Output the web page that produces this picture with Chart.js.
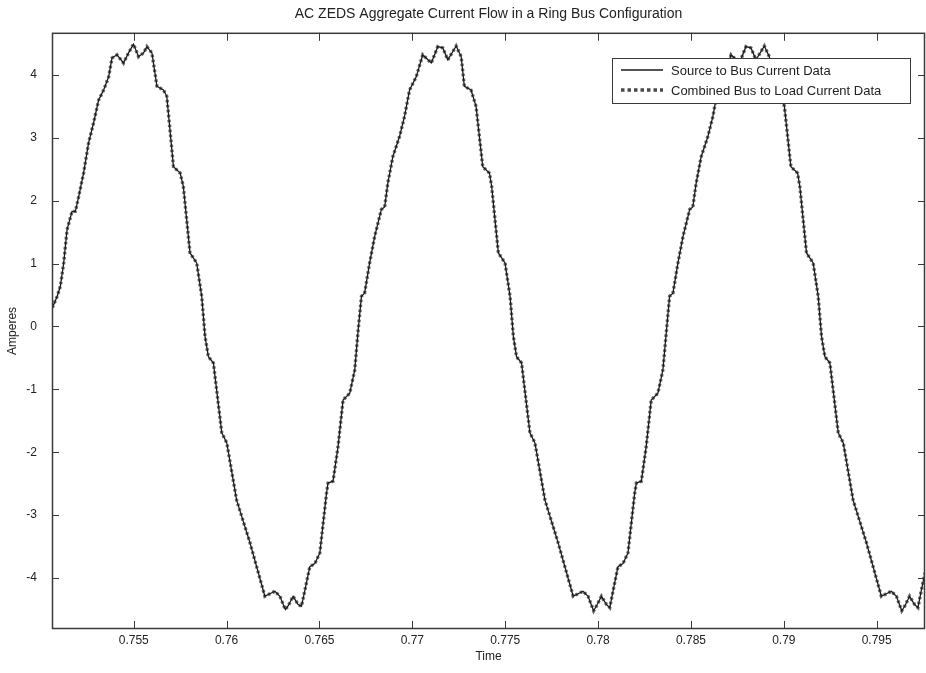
<!DOCTYPE html>
<html>
<head>
<meta charset="utf-8">
<title>AC ZEDS Aggregate Current Flow</title>
<script src="https://cdn.jsdelivr.net/npm/chart.js@4.4.1/dist/chart.umd.min.js"></script>
<style>
    html, body { margin: 0; padding: 0; background: #ffffff; }
    #wrap { width: 926px; height: 673px; }
</style>
</head>
<body>
<div id="wrap"><canvas id="currentChart" width="926" height="673"></canvas></div>
<script>
// sample times (s)
const timeSec = [
    0.75062, 0.75088, 0.75105, 0.75123, 0.75141, 0.75168, 0.75186, 0.75204, 0.75230, 0.75257, 0.75284, 0.75311,
    0.75338, 0.75365, 0.75383, 0.75410, 0.75445, 0.75472, 0.75499, 0.75526, 0.75553, 0.75571, 0.75598,
    0.75625, 0.75660, 0.75678, 0.75714, 0.75750, 0.75767, 0.75803, 0.75839, 0.75866, 0.75884, 0.75902, 0.75929,
    0.75974, 0.76001, 0.76054, 0.76126, 0.76206, 0.76260, 0.76287, 0.76316, 0.76332, 0.76358, 0.76385, 0.76403, 0.76421,
    0.76448, 0.76475, 0.76502, 0.76538, 0.76546, 0.76573, 0.76600, 0.76627, 0.76663, 0.76690, 0.76707, 0.76726,
    0.76743, 0.76770, 0.76797, 0.76833, 0.76851, 0.76868, 0.76895, 0.76931, 0.76958, 0.76985, 0.77021, 0.77056,
    0.77102, 0.77137, 0.77164, 0.77191, 0.77236, 0.77263,
    0.77280, 0.77316, 0.77343, 0.77379, 0.77415, 0.77427, 0.77463, 0.77499, 0.77526, 0.77544, 0.77561, 0.77588,
    0.77633, 0.77660, 0.77714, 0.77785, 0.77866, 0.77919, 0.77946, 0.77976, 0.77992, 0.78018, 0.78045, 0.78063, 0.78081,
    0.78107, 0.78134, 0.78161, 0.78197, 0.78206, 0.78233, 0.78259, 0.78286, 0.78322, 0.78349, 0.78367, 0.78385,
    0.78403, 0.78430, 0.78457, 0.78493, 0.78510, 0.78528, 0.78555, 0.78591, 0.78618, 0.78644, 0.78680, 0.78716,
    0.78761, 0.78796, 0.78823, 0.78850, 0.78895, 0.78922,
    0.78940, 0.78976, 0.79003, 0.79038, 0.79074, 0.79086, 0.79122, 0.79158, 0.79185, 0.79203, 0.79221, 0.79248,
    0.79293, 0.79320, 0.79373, 0.79445, 0.79525, 0.79579, 0.79606, 0.79635, 0.79652, 0.79677, 0.79704, 0.79722,
    0.79740, 0.79767
];

// Source to Bus current (A)
const sourceCurrent = [
    0.30, 0.48, 0.64, 1.01, 1.54, 1.83, 1.83, 2.07, 2.44, 2.92, 3.24, 3.60,
    3.76, 3.97, 4.27, 4.32, 4.19, 4.35, 4.49, 4.29, 4.35, 4.45, 4.35,
    3.82, 3.76, 3.66, 2.54, 2.44, 2.23, 1.17, 1.01, 0.48, -0.16, -0.48, -0.58,
    -1.69, -1.85, -2.76, -3.44, -4.29, -4.21, -4.29, -4.50, -4.44, -4.29, -4.42, -4.45, -4.20,
    -3.82, -3.77, -3.60, -2.65, -2.49, -2.46, -1.91, -1.17, -1.06, -0.69, -0.10, 0.48,
    0.53, 1.01, 1.43, 1.86, 1.90, 2.28, 2.70, 3.02, 3.34, 3.76, 3.97, 4.32,
    4.19, 4.45, 4.43, 4.24, 4.46, 4.29,
    3.82, 3.76, 3.50, 2.54, 2.44, 2.23, 1.17, 1.01, 0.48, -0.16, -0.48, -0.58,
    -1.69, -1.85, -2.76, -3.44, -4.29, -4.21, -4.29, -4.52, -4.44, -4.29, -4.42, -4.47, -4.20,
    -3.82, -3.77, -3.60, -2.65, -2.49, -2.46, -1.91, -1.17, -1.06, -0.69, -0.10, 0.48,
    0.53, 1.01, 1.43, 1.86, 1.90, 2.28, 2.70, 3.02, 3.34, 3.76, 3.97, 4.32,
    4.19, 4.45, 4.43, 4.24, 4.46, 4.29,
    3.82, 3.76, 3.50, 2.54, 2.44, 2.23, 1.17, 1.01, 0.48, -0.16, -0.48, -0.58,
    -1.69, -1.85, -2.76, -3.44, -4.29, -4.21, -4.29, -4.52, -4.44, -4.29, -4.42, -4.47,
    -4.20, -3.82
];

// Combined Bus to Load current (A) - lies on top of the source trace
const loadCurrent = [
    0.30, 0.48, 0.64, 1.01, 1.54, 1.83, 1.83, 2.07, 2.44, 2.92, 3.24, 3.60,
    3.76, 3.97, 4.27, 4.32, 4.19, 4.35, 4.49, 4.29, 4.35, 4.45, 4.35,
    3.82, 3.76, 3.66, 2.54, 2.44, 2.23, 1.17, 1.01, 0.48, -0.16, -0.48, -0.58,
    -1.69, -1.85, -2.76, -3.44, -4.29, -4.21, -4.29, -4.50, -4.44, -4.29, -4.42, -4.45, -4.20,
    -3.82, -3.77, -3.60, -2.65, -2.49, -2.46, -1.91, -1.17, -1.06, -0.69, -0.10, 0.48,
    0.53, 1.01, 1.43, 1.86, 1.90, 2.28, 2.70, 3.02, 3.34, 3.76, 3.97, 4.32,
    4.19, 4.45, 4.43, 4.24, 4.46, 4.29,
    3.82, 3.76, 3.50, 2.54, 2.44, 2.23, 1.17, 1.01, 0.48, -0.16, -0.48, -0.58,
    -1.69, -1.85, -2.76, -3.44, -4.29, -4.21, -4.29, -4.52, -4.44, -4.29, -4.42, -4.47, -4.20,
    -3.82, -3.77, -3.60, -2.65, -2.49, -2.46, -1.91, -1.17, -1.06, -0.69, -0.10, 0.48,
    0.53, 1.01, 1.43, 1.86, 1.90, 2.28, 2.70, 3.02, 3.34, 3.76, 3.97, 4.32,
    4.19, 4.45, 4.43, 4.24, 4.46, 4.29,
    3.82, 3.76, 3.50, 2.54, 2.44, 2.23, 1.17, 1.01, 0.48, -0.16, -0.48, -0.58,
    -1.69, -1.85, -2.76, -3.44, -4.29, -4.21, -4.29, -4.52, -4.44, -4.29, -4.42, -4.47,
    -4.20, -3.82
];

const xTicks = [0.755, 0.76, 0.765, 0.77, 0.775, 0.78, 0.785, 0.79, 0.795];
const yTicks = [-4, -3, -2, -1, 0, 1, 2, 3, 4];
const xLimits = [0.7506, 0.7976];
const yLimits = [-4.81, 4.67];

const FONT = 'Liberation Sans, Arial, sans-serif';

// MATLAB style box with inward tick marks on all four sides
const matlabAxes = {
    id: 'matlabAxes',
    afterDatasetsDraw(chart) {
        const { ctx, chartArea: a, scales: { x, y } } = chart;
        ctx.save();
        ctx.strokeStyle = '#3a3a3a';
        ctx.lineWidth = 1;
        ctx.beginPath();
        xTicks.forEach(function(v) {
            const px = Math.round(x.getPixelForValue(v)) + 0.5;
            ctx.moveTo(px, a.bottom); ctx.lineTo(px, a.bottom - 8);
            ctx.moveTo(px, a.top); ctx.lineTo(px, a.top + 8);
        });
        yTicks.forEach(function(v) {
            const py = Math.round(y.getPixelForValue(v)) + 0.5;
            ctx.moveTo(a.left, py); ctx.lineTo(a.left + 7, py);
            ctx.moveTo(a.right, py); ctx.lineTo(a.right - 7, py);
        });
        ctx.stroke();
        ctx.lineWidth = 1.5;
        ctx.strokeRect(a.left + 0.5, a.top + 0.5, a.width - 1, a.height - 1);
        ctx.restore();
    }
};

// legend box in the upper right of the axes
const boxLegend = {
    id: 'boxLegend',
    afterDraw(chart) {
        const { ctx, chartArea: a } = chart;
        const bx = a.right - 313, by = 58, bw = 298, bh = 45;
        ctx.save();
        ctx.fillStyle = '#ffffff';
        ctx.fillRect(bx, by, bw, bh);
        ctx.strokeStyle = '#3a3a3a';
        ctx.lineWidth = 1;
        ctx.strokeRect(bx + 0.5, by + 0.5, bw, bh);

        const rows = chart.data.datasets;
        ctx.font = '13px ' + FONT;
        ctx.textBaseline = 'middle';
        ctx.fillStyle = '#222';
        rows.forEach(function(ds, i) {
            const ry = by + 12 + i * 20;
            ctx.strokeStyle = ds.legendColor;
            ctx.lineWidth = ds.legendWidth;
            ctx.setLineDash(ds.legendDash || []);
            ctx.beginPath();
            ctx.moveTo(bx + 9, ry);
            ctx.lineTo(bx + 51, ry);
            ctx.stroke();
            ctx.setLineDash([]);
            ctx.fillText(ds.label, bx + 59, ry + 1);
        });
        ctx.restore();
    }
};

function pairs(values) {
    return timeSec.map(function(t, i) { return { x: t, y: values[i] }; });
}

const ctx = document.getElementById('currentChart').getContext('2d');
const currentChart = new Chart(ctx, {
    type: 'line',
    data: {
        datasets: [
            {
                label: 'Source to Bus Current Data',
                data: pairs(sourceCurrent),
                borderColor: '#1a1a1a',
                borderWidth: 1.3,
                legendColor: '#1a1a1a',
                legendWidth: 1.3,
                pointRadius: 0,
                tension: 0
            },
            {
                label: 'Combined Bus to Load Current Data',
                data: pairs(loadCurrent),
                borderColor: '#6e6e6e',
                borderWidth: 3.4,
                borderDash: [2.5, 2.5],
                legendColor: '#4a4a4a',
                legendWidth: 3.5,
                legendDash: [3.5, 3],
                pointRadius: 0,
                tension: 0
            }
        ]
    },
    options: {
        responsive: false,
        animation: false,
        devicePixelRatio: 1,
        layout: { padding: { left: 0, right: 1, top: 0, bottom: 0 } },
        plugins: {
            legend: { display: false },
            tooltip: { enabled: false },
            title: {
                display: true,
                fullSize: false,
                text: 'AC ZEDS Aggregate Current Flow in a Ring Bus Configuration',
                color: '#222',
                font: { family: FONT, size: 14, weight: 'normal' },
                padding: { top: 5.5, bottom: 10.5 }
            }
        },
        scales: {
            x: {
                type: 'linear',
                min: xLimits[0],
                max: xLimits[1],
                grid: { display: false, drawTicks: false },
                border: { display: false },
                afterBuildTicks: function(s) { s.ticks = xTicks.map(function(v) { return { value: v }; }); },
                afterFit: function(s) { s.height = 44; },
                ticks: {
                    autoSkip: false,
                    maxRotation: 0,
                    padding: 4,
                    color: '#222',
                    font: { family: FONT, size: 12 },
                    callback: function(v) { return String(Number(v.toFixed(3))); }
                },
                title: {
                    display: true,
                    text: 'Time',
                    color: '#222',
                    font: { family: FONT, size: 12 },
                    padding: { top: 0, bottom: 9 }
                }
            },
            y: {
                type: 'linear',
                min: yLimits[0],
                max: yLimits[1],
                grid: { display: false, drawTicks: false },
                border: { display: false },
                afterBuildTicks: function(s) { s.ticks = yTicks.map(function(v) { return { value: v }; }); },
                afterFit: function(s) { s.width = 52; },
                ticks: {
                    padding: 15,
                    color: '#222',
                    font: { family: FONT, size: 12 },
                    callback: function(v) { return String(v); }
                },
                title: {
                    display: true,
                    text: 'Amperes',
                    color: '#222',
                    font: { family: FONT, size: 12 },
                    padding: { top: 5, bottom: 0 }
                }
            }
        }
    },
    plugins: [matlabAxes, boxLegend]
});
</script>
</body>
</html>
